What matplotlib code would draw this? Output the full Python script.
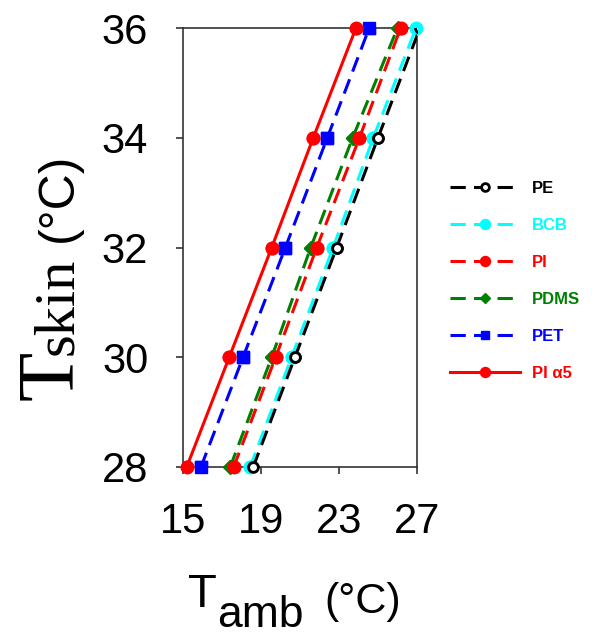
import matplotlib
matplotlib.use("Agg")
import matplotlib.pyplot as plt
import numpy as np

# skin temperature levels (y) and ambient temperatures (x) per material
t_skin = [28, 30, 32, 34, 36]
t_pe = [18.6, 20.74, 22.88, 25.0, 27.15]
t_bcb = [18.44, 20.57, 22.7, 24.76, 26.95]
t_pi = [17.6, 19.75, 21.86, 24.05, 26.16]
t_pdms = [17.42, 19.55, 21.55, 23.7, 26.0]
t_pet = [15.92, 18.08, 20.25, 22.4, 24.55]
t_pia5 = [15.19, 17.37, 19.55, 21.68, 23.87]

labels = ["PE", "BCB", "PI", "PDMS", "PET", "PI α5"]
series = [t_pe, t_bcb, t_pi, t_pdms, t_pet, t_pia5]
colors = ["black", "#00FFFF", "red", "green", "blue", "red"]
markers = ["o", "o", "o", "D", "s", "o"]
dashed = [True, True, True, True, True, False]
zorders = [4, 3, 6, 5, 7, 8]

x_ticks = [15, 19, 23, 27]
y_ticks = [28, 30, 32, 34, 36]

W, H = 592, 637
fig = plt.figure(figsize=(W / 100, H / 100), dpi=100)
ax = fig.add_axes([183 / W, 1 - 467 / H, 234 / W, 439 / H])


def px(x, y):
    return x / W, 1 - y / H


handles = []
for xs, lab, c, m, d, z in zip(series, labels, colors, markers, dashed, zorders):
    face = "white" if lab == "PE" else c
    ms = {"o": 9, "D": 7, "s": 8}[m]
    if lab == "PE":
        ms = 7
    mew = 2 if lab == "PE" else 1
    ls = (0, (5, 2.7)) if d else "-"
    h, = ax.plot(xs, t_skin, color=c, lw=2.2, linestyle=ls, marker=m,
                 markersize=ms, markerfacecolor=face, markeredgecolor=c,
                 markeredgewidth=mew, zorder=z, label=lab)
    handles.append(h)
    # markers sitting on the frame are not clipped
    keep = [i for i, v in enumerate(xs) if v <= 27]
    ax.plot([xs[i] for i in keep], [t_skin[i] for i in keep], linestyle="none",
            marker=m, markersize=ms, markerfacecolor=face, markeredgecolor=c,
            markeredgewidth=mew, zorder=z, clip_on=False)

ax.set_xlim(15, 27)
ax.set_ylim(28, 36)
ax.set_xticks(x_ticks)
ax.set_yticks(y_ticks)
ax.tick_params(axis="both", direction="out", length=5, width=1.2, color="#333333",
               labelsize=30, labelfontfamily="Liberation Sans")
ax.tick_params(axis="y", pad=20)
ax.tick_params(axis="x", pad=20)
for s in ax.spines.values():
    s.set_linewidth(1.2)
    s.set_color("#333333")

leg = ax.legend(handles=handles, loc="upper left", bbox_to_anchor=(px(450, 181)),
                bbox_transform=fig.transFigure, frameon=False, borderpad=0,
                borderaxespad=0, handlelength=4.2, handletextpad=0.7,
                labelspacing=1.32, markerscale=0.8,
                prop={"family": "Liberation Sans", "weight": "bold", "size": 12})
for t, c in zip(leg.get_texts(), colors):
    t.set_color(c)

# y label: T_skin (°C)
fig.text(*px(72, 400), "T", rotation=90, rotation_mode="anchor", ha="left",
         va="baseline", family="Liberation Serif", fontsize=58)
fig.text(*px(72, 355), "skin", rotation=90, rotation_mode="anchor", ha="left",
         va="baseline", family="Liberation Serif", fontsize=42)
fig.text(*px(72, 242), "(°C)", rotation=90, rotation_mode="anchor", ha="left",
         va="baseline", family="Liberation Sans", fontsize=36)

# x label: T_amb (°C)
fig.text(*px(188, 607), "T", ha="left", va="baseline",
         family="Liberation Sans", fontsize=34)
fig.text(*px(217, 627), "amb", ha="left", va="baseline",
         family="Liberation Sans", fontsize=32)
fig.text(*px(324, 613), "(°C)", ha="left", va="baseline",
         family="Liberation Sans", fontsize=31)

fig.savefig("out.png", dpi=100)
